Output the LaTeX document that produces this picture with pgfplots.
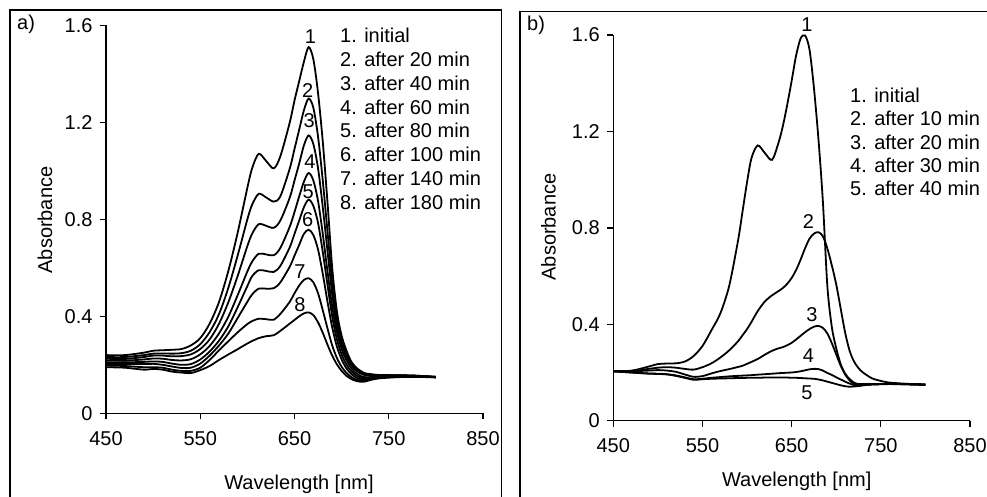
\documentclass[border=0pt]{standalone}
\usepackage{fontspec}
\setmainfont{Liberation Sans}
\usepackage{pgfplots}
\usepackage{pgfplotstable}
\pgfplotsset{compat=1.18}
\newcommand\ff{\fontsize{20}{24}\selectfont}

\pgfplotstableread{
wl  a1    a2    a3    a4    a5    a6    a7    a8
450 0.240 0.232 0.225 0.218 0.210 0.204 0.197 0.190
470 0.240 0.232 0.224 0.217 0.210 0.203 0.195 0.188
490 0.250 0.240 0.232 0.222 0.212 0.203 0.190 0.180
500 0.258 0.246 0.238 0.226 0.214 0.204 0.190 0.183
510 0.260 0.247 0.238 0.225 0.212 0.200 0.188 0.180
520 0.262 0.246 0.235 0.220 0.205 0.193 0.180 0.172
530 0.265 0.248 0.236 0.218 0.200 0.187 0.175 0.168
540 0.280 0.258 0.243 0.223 0.203 0.188 0.175 0.166
550 0.310 0.285 0.265 0.243 0.222 0.205 0.188 0.178
560 0.370 0.335 0.305 0.278 0.255 0.238 0.220 0.195
570 0.460 0.410 0.370 0.330 0.300 0.280 0.260 0.220
580 0.590 0.520 0.460 0.400 0.360 0.330 0.298 0.243
590 0.750 0.655 0.570 0.490 0.440 0.395 0.335 0.265
600 0.930 0.800 0.690 0.585 0.525 0.460 0.368 0.288
605 1.010 0.860 0.740 0.625 0.565 0.490 0.380 0.298
612 1.070 0.905 0.780 0.658 0.590 0.514 0.390 0.310
620 1.040 0.890 0.773 0.655 0.587 0.514 0.388 0.318
628 1.010 0.873 0.765 0.652 0.583 0.516 0.386 0.322
635 1.060 0.895 0.795 0.682 0.608 0.540 0.410 0.340
645 1.200 1.010 0.890 0.770 0.685 0.605 0.460 0.370
650 1.290 1.090 0.960 0.830 0.740 0.650 0.495 0.385
655 1.370 1.170 1.030 0.895 0.795 0.695 0.527 0.400
660 1.450 1.250 1.105 0.955 0.850 0.740 0.550 0.412
665 1.510 1.298 1.146 0.991 0.881 0.757 0.557 0.416
670 1.460 1.260 1.110 0.960 0.855 0.735 0.540 0.405
675 1.320 1.140 1.010 0.875 0.785 0.675 0.495 0.375
680 1.120 0.960 0.850 0.740 0.665 0.575 0.425 0.332
685 0.870 0.750 0.670 0.585 0.530 0.460 0.350 0.283
690 0.600 0.540 0.490 0.440 0.400 0.355 0.280 0.238
695 0.420 0.390 0.360 0.335 0.305 0.275 0.228 0.202
700 0.320 0.305 0.285 0.265 0.243 0.222 0.192 0.175
705 0.260 0.250 0.235 0.220 0.202 0.186 0.167 0.155
710 0.215 0.210 0.200 0.188 0.175 0.163 0.150 0.142
715 0.190 0.186 0.178 0.167 0.157 0.148 0.139 0.134
720 0.175 0.170 0.164 0.154 0.147 0.140 0.134 0.130
725 0.165 0.162 0.157 0.149 0.144 0.139 0.134 0.131
730 0.162 0.160 0.155 0.149 0.145 0.142 0.139 0.137
740 0.158 0.157 0.155 0.152 0.150 0.148 0.146 0.144
760 0.157 0.157 0.156 0.154 0.153 0.152 0.151 0.149
780 0.155 0.155 0.154 0.153 0.152 0.152 0.152 0.150
800 0.150 0.150 0.150 0.150 0.150 0.149 0.148 0.148
}\dataA

\pgfplotstableread{
wl  b1    b2    b3    b4    b5
450 0.205 0.205 0.205 0.205 0.205
470 0.207 0.207 0.205 0.200 0.200
490 0.225 0.215 0.208 0.196 0.195
500 0.235 0.220 0.210 0.195 0.194
510 0.237 0.222 0.208 0.193 0.192
520 0.238 0.220 0.203 0.188 0.186
530 0.245 0.215 0.192 0.180 0.178
540 0.268 0.212 0.182 0.172 0.170
550 0.310 0.222 0.185 0.174 0.172
560 0.375 0.238 0.196 0.178 0.174
570 0.445 0.262 0.206 0.181 0.175
580 0.560 0.292 0.214 0.184 0.176
590 0.750 0.330 0.223 0.186 0.177
595 0.870 0.355 0.228 0.187 0.177
600 0.990 0.380 0.236 0.188 0.178
605 1.090 0.410 0.244 0.189 0.178
612 1.142 0.455 0.256 0.191 0.178
620 1.110 0.495 0.274 0.193 0.179
628 1.082 0.520 0.290 0.195 0.179
635 1.150 0.537 0.300 0.197 0.179
640 1.220 0.550 0.305 0.198 0.179
645 1.310 0.568 0.313 0.199 0.179
650 1.410 0.592 0.323 0.200 0.178
655 1.515 0.625 0.337 0.202 0.178
660 1.585 0.668 0.352 0.205 0.177
665 1.598 0.715 0.367 0.209 0.176
670 1.540 0.755 0.380 0.213 0.175
675 1.380 0.776 0.390 0.215 0.174
680 1.170 0.782 0.393 0.214 0.171
685 0.910 0.765 0.385 0.208 0.167
690 0.560 0.715 0.362 0.198 0.162
695 0.390 0.645 0.322 0.190 0.157
700 0.300 0.565 0.275 0.180 0.152
705 0.235 0.465 0.228 0.171 0.147
710 0.195 0.365 0.192 0.162 0.143
715 0.173 0.290 0.167 0.154 0.141
720 0.158 0.245 0.152 0.148 0.142
725 0.152 0.218 0.146 0.146 0.144
730 0.152 0.200 0.147 0.148 0.147
740 0.152 0.176 0.151 0.151 0.150
750 0.152 0.165 0.152 0.152 0.151
760 0.152 0.158 0.153 0.153 0.152
780 0.150 0.153 0.152 0.152 0.152
800 0.148 0.150 0.150 0.150 0.150
}\dataB

\pgfplotsset{
  myax/.style={
    scale only axis, anchor=south west, clip=false,
    xmin=450, xmax=850, ymin=0, ymax=1.6,
    axis x line*=bottom, axis y line*=left,
    axis line style={line width=1.3pt, black},
    xtick={450,550,650,750,850}, ytick={0,0.4,0.8,1.2,1.6},
    tick align=outside, major tick length=6pt,
    tick style={line width=1.3pt, black},
    tick label style={font=\ff},
    xticklabel style={yshift=-8.5pt},
    yticklabel style={xshift=-4pt, /pgf/number format/fixed, /pgf/number format/precision=1},
    /pgf/number format/assume math mode=true,
  },
  curve/.style={line width=1.8pt, black, smooth, tension=0.5, mark=none},
}

\begin{document}
\begin{tikzpicture}[x=1pt,y=1pt]
\useasboundingbox (0,0) rectangle (987,496);
\draw[line width=1.3pt] (10,-10) -- (10,486) -- (501.7,486) -- (501.7,-10);
\draw[line width=1.3pt] (520,-10) -- (520,484.3) -- (995,484.3);

\begin{axis}[myax, at={(106pt,82.7pt)}, width=377pt, height=388pt]
\addplot[curve] table[x=wl, y=a1] {\dataA};
\addplot[curve] table[x=wl, y=a2] {\dataA};
\addplot[curve] table[x=wl, y=a3] {\dataA};
\addplot[curve] table[x=wl, y=a4] {\dataA};
\addplot[curve] table[x=wl, y=a5] {\dataA};
\addplot[curve] table[x=wl, y=a6] {\dataA};
\addplot[curve] table[x=wl, y=a7] {\dataA};
\addplot[curve] table[x=wl, y=a8] {\dataA};
\node[font=\ff] at (axis cs:667,1.555) {1};
\node[font=\ff] at (axis cs:664,1.332) {2};
\node[font=\ff] at (axis cs:665.7,1.208) {3};
\node[font=\ff] at (axis cs:666.4,1.036) {4};
\node[font=\ff] at (axis cs:664.6,0.913) {5};
\node[font=\ff] at (axis cs:664,0.799) {6};
\node[font=\ff] at (axis cs:655.8,0.583) {7};
\node[font=\ff] at (axis cs:655.8,0.449) {8};
\end{axis}

\begin{axis}[myax, at={(613.3pt,75.3pt)}, width=356.7pt, height=385.7pt]
\addplot[curve] table[x=wl, y=b1] {\dataB};
\addplot[curve] table[x=wl, y=b2] {\dataB};
\addplot[curve] table[x=wl, y=b3] {\dataB};
\addplot[curve] table[x=wl, y=b4] {\dataB};
\addplot[curve] table[x=wl, y=b5] {\dataB};
\node[font=\ff] at (axis cs:667,1.641) {1};
\node[font=\ff] at (axis cs:668.8,0.827) {2};
\node[font=\ff] at (axis cs:672.6,0.441) {3};
\node[font=\ff] at (axis cs:668.8,0.269) {4};
\node[font=\ff] at (axis cs:667,0.117) {5};
\end{axis}

% panel a texts
\node[font=\ff, anchor=base west, inner sep=0] at (17,466) {a)};
\node[font=\ff, rotate=90] at (45,276) {Absorbance};
\node[font=\ff, anchor=base, inner sep=0] at (299,7) {Wavelength [nm]};
\foreach \t [count=\i from 0] in {1. initial, 2. after 20 min, 3. after 40 min, 4. after 60 min, 5. after 80 min, 6. after 100 min, 7. after 140 min, 8. after 180 min}{
  \node[font=\ff, anchor=base west, inner sep=0] at (340,{496-42.8-23.8*\i}) {\t};
}
% panel b texts
\node[font=\ff, anchor=base west, inner sep=0] at (527,465) {b)};
\node[font=\ff, rotate=90] at (548.5,269) {Absorbance};
\node[font=\ff, anchor=base, inner sep=0] at (796.7,9.3) {Wavelength [nm]};
\foreach \t [count=\i from 0] in {1. initial, 2. after 10 min, 3. after 20 min, 4. after 30 min, 5. after 40 min}{
  \node[font=\ff, anchor=base west, inner sep=0] at (850,{496-102.5-23.3*\i}) {\t};
}
\end{tikzpicture}
\end{document}
